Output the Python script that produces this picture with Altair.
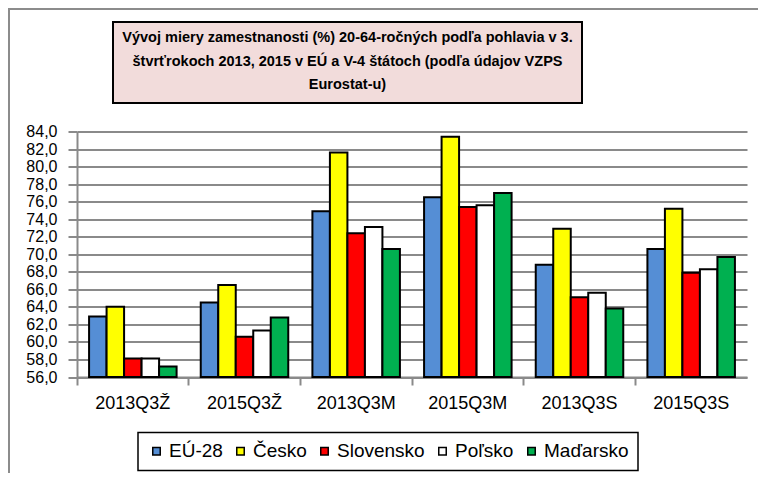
import altair as alt
import pandas as pd

CATEGORIES = ["2013Q3Ž", "2015Q3Ž", "2013Q3M", "2015Q3M", "2013Q3S", "2015Q3S"]
SERIES = ["EÚ-28", "Česko", "Slovensko", "Poľsko", "Maďarsko"]
COLORS = ["#558ED5", "#FFFF00", "#FF0000", "#FFFFFF", "#00B050"]

EU28 = [62.9, 64.5, 74.9, 76.5, 68.8, 70.6]
CESKO = [64.0, 66.5, 81.6, 83.4, 72.9, 75.2]
SLOVENSKO = [58.1, 60.6, 72.4, 75.4, 65.1, 67.9]
POLSKO = [58.1, 61.3, 73.1, 75.6, 65.6, 68.3]
MADARSKO = [57.2, 62.8, 70.6, 77.0, 63.8, 69.7]

Y_TICKS = [56, 58, 60, 62, 64, 66, 68, 70, 72, 74, 76, 78, 80, 82, 84]

TITLE_LINES = [
    "Vývoj miery zamestnanosti (%) 20-64-ročných podľa pohlavia v 3.",
    "štvrťrokoch 2013, 2015 v EÚ a V-4 štátoch (podľa údajov VZPS",
    "Eurostat-u)",
]

rows = []
for s, vals in zip(SERIES, [EU28, CESKO, SLOVENSKO, POLSKO, MADARSKO]):
    for c, v in zip(CATEGORIES, vals):
        rows.append({"kat": c, "krajina": s, "hodnota": v})
df = pd.DataFrame(rows)

FONT = "Liberation Sans"
GRID = "#8a8a8a"
W, H = 670, 245.5
one = alt.Data(values=[{}])

bars = alt.Chart(df).mark_bar(stroke="black", strokeWidth=2).encode(
    x=alt.X(
        "kat:N", sort=CATEGORIES, title=None,
        scale=alt.Scale(paddingInner=0, paddingOuter=0),
        axis=alt.Axis(
            bandPosition=0, labelAngle=0,
            labelFont=FONT, labelFontSize=18, labelColor="black", labelPadding=9,
            tickSize=8, tickColor=GRID, tickWidth=2,
            domainColor=GRID, domainWidth=2, grid=False,
        ),
    ),
    xOffset=alt.XOffset(
        "krajina:N", sort=SERIES,
        scale=alt.Scale(paddingInner=0, paddingOuter=0.69),
    ),
    y=alt.Y(
        "hodnota:Q", title=None,
        scale=alt.Scale(domain=[Y_TICKS[0], Y_TICKS[-1]], zero=False, nice=False),
        axis=alt.Axis(
            values=Y_TICKS,
            labelExpr="replace(format(datum.value, '.1f'), '.', ',')",
            labelFont=FONT, labelFontSize=16, labelColor="black", labelPadding=11,
            labelOverlap=False, labelFlush=False,
            tickSize=9, tickColor=GRID, tickWidth=2,
            domainColor=GRID, domainWidth=2,
            grid=True, gridColor=GRID, gridWidth=2,
        ),
    ),
    y2=alt.datum(Y_TICKS[0]),
    color=alt.Color(
        "krajina:N", sort=SERIES,
        scale=alt.Scale(domain=SERIES, range=COLORS),
        legend=alt.Legend(
            title=None, orient="none", legendX=61, legendY=301,
            direction="horizontal", columns=5,
            symbolType="square", symbolSize=56,
            symbolStrokeColor="black", symbolStrokeWidth=1.5,
            labelFont=FONT, labelFontSize=19, labelColor="black",
            labelOffset=3, columnPadding=8, padding=9,
            strokeColor="black", fillColor="white",
        ),
    ),
)

border_top = alt.Chart(one).mark_rule(color="#8c8c8c", strokeWidth=2).encode(
    x=alt.value(-69), x2=alt.value(690), y=alt.value(-122.5)
)
border_left = alt.Chart(one).mark_rule(color="#8c8c8c", strokeWidth=2).encode(
    x=alt.value(-68), y=alt.value(-123.5), y2=alt.value(400)
)

title_box = alt.Chart(one).mark_rect(
    fill="#F2DCDB", stroke="black", strokeWidth=2
).encode(
    x=alt.value(36), x2=alt.value(505), y=alt.value(-109.5), y2=alt.value(-28.5)
)
title_text = alt.Chart(one).mark_text(
    text=TITLE_LINES, font=FONT, fontSize=14.5,
    fontWeight="bold", align="center", baseline="middle",
    lineHeight=23.5, color="black",
).encode(x=alt.value(270.5), y=alt.value(-93.5))

chart = alt.layer(border_top, border_left, title_box, title_text, bars).properties(
    width=W, height=H,
    autosize=alt.AutoSizeParams(type="none"),
    padding={"left": 69, "top": 123.5, "right": 11, "bottom": 96},
).configure_view(stroke="transparent", fill="white").configure_legend(strokeWidth=1.5)

chart.save("out.html", embed_options={"renderer": "svg", "actions": False})
